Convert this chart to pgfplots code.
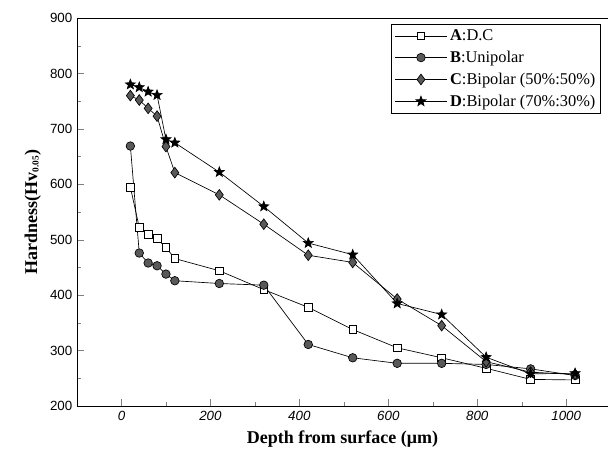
\documentclass[border=0pt]{standalone}
\usepackage{fontspec}
\usepackage{pgfplots}
\pgfplotsset{compat=1.18}
\setmainfont{Liberation Serif}
\newfontfamily\arial{Liberation Sans}

% filled five-pointed star
\pgfdeclareplotmark{fstar}{%
  \pgfpathmoveto{\pgfpointpolar{90}{\pgfplotmarksize}}%
  \pgfpathlineto{\pgfpointpolar{126}{0.42\pgfplotmarksize}}%
  \pgfpathlineto{\pgfpointpolar{162}{\pgfplotmarksize}}%
  \pgfpathlineto{\pgfpointpolar{198}{0.42\pgfplotmarksize}}%
  \pgfpathlineto{\pgfpointpolar{234}{\pgfplotmarksize}}%
  \pgfpathlineto{\pgfpointpolar{270}{0.42\pgfplotmarksize}}%
  \pgfpathlineto{\pgfpointpolar{306}{\pgfplotmarksize}}%
  \pgfpathlineto{\pgfpointpolar{342}{0.42\pgfplotmarksize}}%
  \pgfpathlineto{\pgfpointpolar{18}{\pgfplotmarksize}}%
  \pgfpathlineto{\pgfpointpolar{54}{0.42\pgfplotmarksize}}%
  \pgfpathclose
  \pgfusepathqfillstroke}

\pgfplotstableread{
x    A    B    C    D
20   595  669  760  780
40   522  476  752  775
60   510  458  737  767
80   502  453  723  761
100  486  438  668  681
120  466  426  621  675
220  444  421  581  622
320  410  418  528  560
420  378  311  472  494
520  338  287  459  473
620  305  277  393  385
720  287  277  345  365
820  268  275  280  288
920  248  267  261  258
1020 247  255  257  259
}\hardness

\begin{document}
\begin{tikzpicture}[x=1pt,y=1pt]
\useasboundingbox (-57.75,-42) rectangle (398.25,304.5);
\begin{axis}[
    at={(0,0)}, anchor=south west,
    scale only axis,
    width=398.25pt, height=291pt,
    xmin=-100, xmax=1094,
    ymin=200, ymax=900,
    axis x line*=box, axis y line*=left,
    xtick pos=bottom,
    tick align=inside,
    xtick={0,200,...,1000},
    ytick={200,300,...,900},
    minor x tick num=1,
    minor y tick num=1,
    major tick length=5pt,
    minor tick length=3pt,
    /pgf/number format/assume math mode=true,
    /pgf/number format/1000 sep={},
    x tick label style={font=\arial\itshape\fontsize{10}{12}\selectfont},
    y tick label style={font=\arial\fontsize{10}{12}\selectfont},
    xlabel={\textbf{Depth from surface (μm)}},
    ylabel={\textbf{Hardness(Hv{\fontsize{7}{8}\selectfont\raisebox{-0.35ex}{0.05}})}},
    label style={font=\fontsize{13.5}{15}\selectfont},
    xlabel style={yshift=-1pt},
    legend cell align=left,
    legend style={at={(0.987,0.985)}, anchor=north east,
        font=\fontsize{12.3}{14}\selectfont,
        draw=black, line width=0.5pt,
        row sep=2.4pt, inner xsep=2pt, inner ysep=2pt},
    legend image code/.code={%
        \draw[#1,mark repeat=2,mark phase=2] plot coordinates {(0cm,0cm) (0.69cm,0cm) (1.38cm,0cm)};},
    every axis plot/.append style={line width=0.5pt, black},
]
\addplot[mark=square*, mark options={fill=white, solid}, mark size=2.9pt] table[x=x,y=A] {\hardness};
\addlegendentry{\textbf{A}:D.C}
\addplot[mark=*, mark options={fill=black!65, draw=black}, mark size=3.2pt] table[x=x,y=B] {\hardness};
\addlegendentry{\textbf{B}:Unipolar}
\addplot[mark=diamond*, mark options={fill=black!65, draw=black}, mark size=4pt] table[x=x,y=C] {\hardness};
\addlegendentry{\textbf{C}:Bipolar (50\%:50\%)}
\addplot[mark=fstar, mark options={fill=black, draw=black}, mark size=3.9pt] table[x=x,y=D] {\hardness};
\addlegendentry{\textbf{D}:Bipolar (70\%:30\%)}
\end{axis}
\end{tikzpicture}
\end{document}
